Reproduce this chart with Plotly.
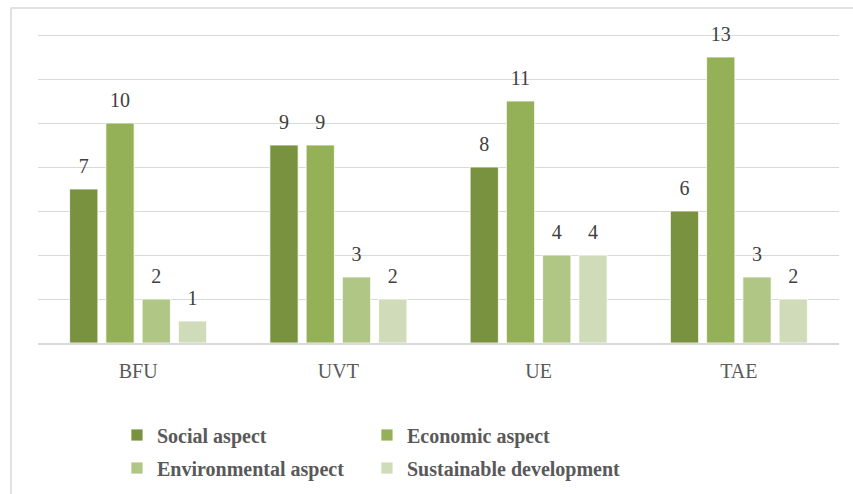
import plotly.graph_objects as go

categories = ["BFU", "UVT", "UE", "TAE"]
series_names = ["Social aspect", "Economic aspect", "Environmental aspect", "Sustainable development"]
social = [7, 9, 8, 6]
economic = [10, 9, 11, 13]
environmental = [2, 3, 4, 3]
sustainable = [1, 2, 4, 2]
series_values = [social, economic, environmental, sustainable]
colors = ["#78923F", "#95B157", "#AFC685", "#D0DCB9"]

FONT = "Liberation Serif"

PLOT_H = 310  # pixel height of plot area (top margin 33 -> bottom at 343)

# legend placement (one legend per entry, laid out as a 2x2 grid)
legend_ids = ["legend", "legend2", "legend3", "legend4"]
legend_x = [0.0986, 0.4107, 0.0986, 0.4107]
legend_y = [-(435 - 343) / PLOT_H, -(435 - 343) / PLOT_H, -(468 - 343) / PLOT_H, -(468 - 343) / PLOT_H]

BARGAP = 0.276

fig = go.Figure()
for name, vals, col, lg in zip(series_names, series_values, colors, legend_ids):
    fig.add_trace(go.Bar(
        x=categories, y=vals, name=name, legend=lg,
        marker=dict(color=col, line=dict(color="#FFFFFF", width=0.8)),
        offsetgroup=name,
    ))

# data labels: text-only scatter traces grouped like the bars
for name, vals in zip(series_names, series_values):
    fig.add_trace(go.Scatter(
        x=categories, y=vals, mode="markers+text", text=[str(v) for v in vals],
        textposition="top center", offsetgroup=name, showlegend=False,
        marker=dict(size=16, color="rgba(0,0,0,0)"),
        textfont=dict(family=FONT, size=20, color="#404040"),
        cliponaxis=False, hoverinfo="skip",
    ))

legend_common = dict(orientation="h", xanchor="left", yanchor="middle",
                     font=dict(family=FONT, size=20, color="#595959", weight="bold"),
                     itemwidth=30, bgcolor="rgba(0,0,0,0)")

fig.update_layout(
    width=853, height=494,
    margin=dict(l=38, r=14, t=33, b=151, autoexpand=False),
    paper_bgcolor="white", plot_bgcolor="white",
    barmode="group", bargap=BARGAP, bargroupgap=0.22,
    scattermode="group", scattergap=BARGAP,
    font=dict(family=FONT, color="#595959"),
    xaxis=dict(showgrid=False, ticks="", showline=True, linecolor="#D9D9D9", linewidth=1.5,
               tickfont=dict(family=FONT, size=20, color="#595959"), ticklabelstandoff=9,
               automargin=False),
    yaxis=dict(range=[0, 310 / 22], tickvals=[2, 4, 6, 8, 10, 12, 14], showticklabels=False,
               showgrid=True, gridcolor="#D9D9D9", gridwidth=1.2, zeroline=False,
               automargin=False),
    showlegend=True,
    shapes=[dict(type="rect", xref="paper", yref="paper",
                 x0=(11 - 38) / 801, x1=(870 - 38) / 801,
                 y0=(343 - 520) / PLOT_H, y1=(343 - 8) / PLOT_H,
                 line=dict(color="#D9D9D9", width=1.5), layer="below")],
)
for lg, lx, ly in zip(legend_ids, legend_x, legend_y):
    fig.update_layout({lg: dict(legend_common, x=lx, y=ly)})

fig.write_html("out.html", config={"displayModeBar": False},
               post_script="document.body.style.margin='0';")
